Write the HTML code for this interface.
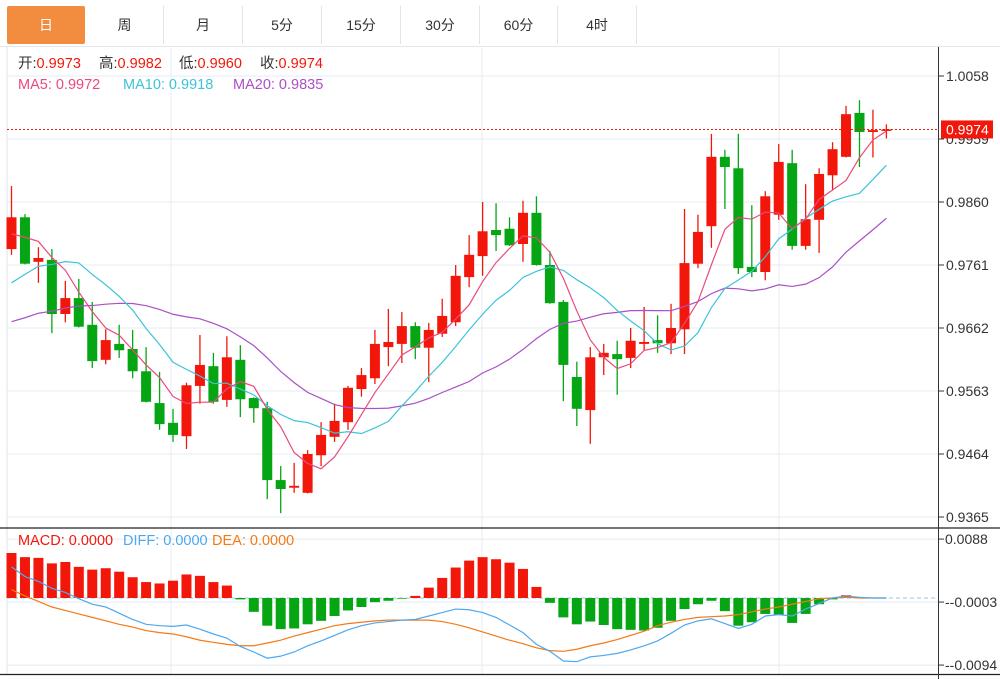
<!DOCTYPE html>
<html><head><meta charset="utf-8">
<style>
body{margin:0;background:#fff;font-family:"Liberation Sans","Noto Sans CJK SC",sans-serif;}
#wrap{position:relative;width:1000px;height:679px;overflow:hidden;}
.tab{position:absolute;top:6px;height:38px;line-height:38px;text-align:center;font-size:14px;color:#333;border-right:1px solid #e3e3e3;box-sizing:border-box;}
</style></head>
<body>
<div id="wrap">
<div style="position:absolute;left:0;top:0;width:1000px;height:46px;border-bottom:1px solid #e3e6ea;">
<div class="tab" style="left:7px;width:78px;background:#f28c3f;color:#fff;border:none;border-radius:2px;">日</div>
<div class="tab" style="left:86px;width:78px;">周</div>
<div class="tab" style="left:164px;width:79px;">月</div>
<div class="tab" style="left:243px;width:79px;">5分</div>
<div class="tab" style="left:322px;width:79px;">15分</div>
<div class="tab" style="left:401px;width:79px;">30分</div>
<div class="tab" style="left:480px;width:78px;">60分</div>
<div class="tab" style="left:558px;width:79px;">4时</div>
</div>
<svg id="svg" width="1000" height="679" style="position:absolute;left:0;top:0"></svg>
</div>
<script>
const opens=[0.9786,0.9836,0.9766,0.9769,0.9684,0.9709,0.9667,0.9612,0.9637,0.9629,0.9594,0.9544,0.9513,0.9492,0.9571,0.9602,0.9549,0.9612,0.9552,0.9536,0.9423,0.9411,0.9403,0.9462,0.9491,0.9514,0.9566,0.9583,0.9632,0.9637,0.9665,0.9631,0.9653,0.9671,0.9742,0.9775,0.9816,0.9818,0.9794,0.9843,0.9761,0.9703,0.9585,0.9533,0.9616,0.9621,0.9615,0.9637,0.9643,0.9638,0.9660,0.9763,0.9822,0.9931,0.9913,0.9758,0.9750,0.9840,0.9921,0.9791,0.9832,0.9902,0.9931,1.0000,0.9970,0.9973];
const highs=[0.9885,0.9841,0.9789,0.9786,0.9736,0.9739,0.9703,0.9660,0.9667,0.9659,0.9632,0.9593,0.9535,0.9576,0.9651,0.9623,0.9649,0.9635,0.9553,0.9546,0.9445,0.9450,0.9470,0.9514,0.9543,0.9571,0.9599,0.9659,0.9692,0.9687,0.9671,0.9670,0.9708,0.9761,0.9808,0.9860,0.9858,0.9836,0.9862,0.9869,0.9783,0.9706,0.9609,0.9632,0.9637,0.9642,0.9662,0.9695,0.9682,0.9700,0.9849,0.9840,0.9967,0.9942,0.9967,0.9855,0.9877,0.9951,0.9942,0.9888,0.9913,0.9954,1.0011,1.0020,1.0005,0.9982];
const lows=[0.9777,0.9762,0.9733,0.9654,0.9671,0.9663,0.9599,0.9605,0.9615,0.9583,0.9545,0.9502,0.9483,0.9472,0.9543,0.9543,0.9538,0.9522,0.9513,0.9393,0.9371,0.9403,0.9402,0.9445,0.9483,0.9502,0.9554,0.9574,0.9602,0.9607,0.9613,0.9577,0.9648,0.9665,0.9726,0.9744,0.9783,0.9791,0.9766,0.9760,0.9700,0.9547,0.9508,0.9480,0.9588,0.9557,0.9599,0.9627,0.9623,0.9621,0.9621,0.9756,0.9788,0.9849,0.9747,0.9742,0.9737,0.9832,0.9785,0.9785,0.9780,0.9879,0.9930,0.9915,0.9930,0.9960];
const closes=[0.9836,0.9763,0.9772,0.9684,0.9709,0.9664,0.9610,0.9643,0.9627,0.9594,0.9546,0.9511,0.9494,0.9572,0.9604,0.9546,0.9616,0.9550,0.9536,0.9423,0.9409,0.9414,0.9464,0.9494,0.9516,0.9568,0.9588,0.9637,0.9640,0.9665,0.9631,0.9659,0.9681,0.9744,0.9777,0.9814,0.9808,0.9792,0.9843,0.9761,0.9701,0.9604,0.9535,0.9616,0.9623,0.9613,0.9642,0.9640,0.9638,0.9662,0.9764,0.9813,0.9931,0.9915,0.9756,0.9750,0.9869,0.9923,0.9791,0.9833,0.9904,0.9943,0.9998,0.9970,0.9973,0.9974];
const priorCloses=[0.9640,0.9630,0.9620,0.9610,0.9600,0.9595,0.9600,0.9600,0.9600,0.9614,0.9630,0.9645,0.9655,0.9665,0.9685,0.9790,0.9805,0.9810,0.9809];
const priceTicks=["1.0058","0.9959","0.9860","0.9761","0.9662","0.9563","0.9464","0.9365"];
const macdHist=[0.0065,0.0059,0.0058,0.0050,0.0052,0.0045,0.0041,0.0043,0.0038,0.0030,0.0023,0.0021,0.0025,0.0034,0.0032,0.0023,0.0018,-0.0002,-0.0020,-0.0040,-0.0045,-0.0044,-0.0038,-0.0033,-0.0026,-0.0018,-0.0013,-0.0006,-0.0004,-0.0001,0.0003,0.0015,0.0029,0.0044,0.0054,0.0059,0.0056,0.0051,0.0042,0.0016,-0.0007,-0.0028,-0.0038,-0.0034,-0.0039,-0.0045,-0.0046,-0.0047,-0.0043,-0.0033,-0.0016,-0.0009,-0.0004,-0.0019,-0.0040,-0.0035,-0.0023,-0.0024,-0.0036,-0.0023,-0.0009,-0.0002,0.0004,0.0001,0.0000,0.0000];
const diffVals=[0.0045,0.0031,0.0024,0.0014,0.0008,-0.0001,-0.0009,-0.0013,-0.0022,-0.0031,-0.0038,-0.0040,-0.0041,-0.0039,-0.0045,-0.0052,-0.0058,-0.0070,-0.0078,-0.0087,-0.0084,-0.0078,-0.0069,-0.0062,-0.0054,-0.0046,-0.0040,-0.0036,-0.0034,-0.0032,-0.0031,-0.0026,-0.0021,-0.0016,-0.0017,-0.0021,-0.0028,-0.0039,-0.0050,-0.0067,-0.0077,-0.0091,-0.0092,-0.0085,-0.0083,-0.0080,-0.0075,-0.0069,-0.0062,-0.0051,-0.0039,-0.0033,-0.0030,-0.0037,-0.0044,-0.0038,-0.0026,-0.0024,-0.0026,-0.0016,-0.0008,0.0000,0.0003,0.0001,0.0000,0.0000];
const deaVals=[0.0012,0.0003,-0.0005,-0.0013,-0.0018,-0.0023,-0.0028,-0.0033,-0.0038,-0.0042,-0.0047,-0.0050,-0.0052,-0.0056,-0.0061,-0.0064,-0.0067,-0.0069,-0.0069,-0.0065,-0.0061,-0.0055,-0.0050,-0.0045,-0.0040,-0.0037,-0.0035,-0.0033,-0.0032,-0.0032,-0.0032,-0.0032,-0.0034,-0.0038,-0.0043,-0.0049,-0.0055,-0.0061,-0.0066,-0.0072,-0.0076,-0.0077,-0.0074,-0.0069,-0.0065,-0.0060,-0.0054,-0.0048,-0.0040,-0.0035,-0.0031,-0.0028,-0.0027,-0.0026,-0.0024,-0.0020,-0.0016,-0.0013,-0.0009,-0.0005,-0.0001,0.0000,0.0001,0.0000,0.0000,0.0000];
const macdTicks=["0.0088","-0.0003","-0.0094"];

const NS="http://www.w3.org/2000/svg";
const svg=document.getElementById('svg');
function mk(tag,attrs,parent){const e=document.createElementNS(NS,tag);for(const k in attrs)e.setAttribute(k,attrs[k]);(parent||svg).appendChild(e);return e;}
const RED="#f2170a",GREEN="#06a514";
const xOf=i=>11.5+i*13.46;
const yP=p=>76+(1.0058-p)*6363.6;
const yM=v=>598-v*6923;

const grid=mk('g',{});


priceTicks.forEach(t=>{mk('line',{x1:7,x2:938,y1:yP(+t),y2:yP(+t),stroke:"#e4ecf3","stroke-width":1},grid);});
macdTicks.forEach(t=>{const y=yM(+t)+2;mk('line',{x1:7,x2:938,y1:y,y2:y,stroke:"#e4ecf3","stroke-width":1},grid);});
[171,482,779].forEach(x=>{mk('line',{x1:x,x2:x,y1:47,y2:674,stroke:"#e4ecf3","stroke-width":1},grid);});
mk('line',{x1:7,x2:7,y1:47,y2:674,stroke:"#dde4ea"},grid);
mk('line',{x1:0,x2:1000,y1:528,y2:528,stroke:"#222","stroke-width":1.2});
mk('line',{x1:0,x2:1000,y1:674.5,y2:674.5,stroke:"#222","stroke-width":1.2});
mk('line',{x1:938.5,x2:938.5,y1:47,y2:679,stroke:"#333","stroke-width":1});

priceTicks.forEach(t=>{
  const y=yP(+t);
  mk('line',{x1:939,x2:944,y1:y,y2:y,stroke:"#333"});
  const tx=mk('text',{x:946,y:y+5,"font-size":14,fill:"#333"});tx.textContent=t;
  
  
});
macdTicks.forEach(t=>{
  const y=yM(+t)+2;
  mk('line',{x1:939,x2:944,y1:y,y2:y,stroke:"#333"});
  const tx=mk('text',{x:945,y:y+5,"font-size":14,fill:"#333"});tx.textContent=(+t<0?"-":"")+t;
  
  
});

const cg=mk('g',{});


closes.forEach((c,i)=>{
  const o=opens[i],up=c>=o,col=up?RED:GREEN,x=xOf(i);
  const g=mk('g',{},cg);
  
  
  mk('line',{x1:x,x2:x,y1:yP(highs[i]),y2:yP(lows[i]),stroke:col,"stroke-width":1.3},g);
  const t=yP(Math.max(o,c)),b=yP(Math.min(o,c));
  mk('rect',{x:x-5,y:t,width:10,height:Math.max(b-t,1.5),fill:col},g);
});

const all=priorCloses.concat(closes);
function ma(n){return closes.map((_,i)=>{const j=i+priorCloses.length;let s=0;for(let k=j-n+1;k<=j;k++)s+=all[k];return s/n;});}
function poly(vals,yf,col,name,w){
  const p=mk('polyline',{points:vals.map((v,i)=>xOf(i)+","+yf(v)).join(" "),fill:"none",stroke:col,"stroke-width":w||1.2});
  
  
}
poly(ma(20),yP,"#ab4fc6","ma20-line");
poly(ma(10),yP,"#3cc4d8","ma10-line");
poly(ma(5),yP,"#ea4a7c","ma5-line");

const lastY=yP(closes[closes.length-1]);
mk('line',{x1:7,x2:938,y1:lastY,y2:lastY,stroke:RED,"stroke-width":1,"stroke-dasharray":"2,2"});
const lb=mk('rect',{x:941,y:lastY-9,width:52,height:18,fill:RED});


const lt=mk('text',{x:946,y:lastY+5,"font-size":14,fill:"#fff"});lt.textContent=closes[closes.length-1].toFixed(4);

mk('line',{x1:7,x2:938,y1:yM(0),y2:yM(0),stroke:"#8fcbe6","stroke-dasharray":"4,3"});
const hg=mk('g',{});


macdHist.forEach((v,i)=>{
  const y0=yM(0),y1=yM(v);
  const r=mk('rect',{x:xOf(i)-5,y:Math.min(y0,y1),width:10,height:Math.abs(y1-y0),fill:v>=0?RED:GREEN},hg);
  
  
});
poly(deaVals,yM,"#f47a16","dea-line");
poly(diffVals,yM,"#4ea8ef","diff-line");

function legend(y,parts,name){
  const t=mk('text',{x:parts[0][2],y:y,"font-size":14.5});
  
  
  parts.forEach(([s,c,x])=>{const a={fill:c};if(x!==undefined)a.x=x;const sp=mk('tspan',a,t);sp.textContent=s;});
}
legend(68,[["开:","#333",18],["0.9973",RED],["高:","#333",99],["0.9982",RED],["低:","#333",179],["0.9960",RED],["收:","#333",260],["0.9974",RED]],"ohlc-legend");
legend(89,[["MA5: 0.9972","#ea4a7c",18],["MA10: 0.9918","#3cc4d8",123],["MA20: 0.9835","#ab4fc6",233]],"ma-legend");
legend(545,[["MACD: 0.0000",RED,18],["DIFF: 0.0000","#4ea8ef",123],["DEA: 0.0000","#f47a16",212]],"macd-legend");
</script>
</body></html>
